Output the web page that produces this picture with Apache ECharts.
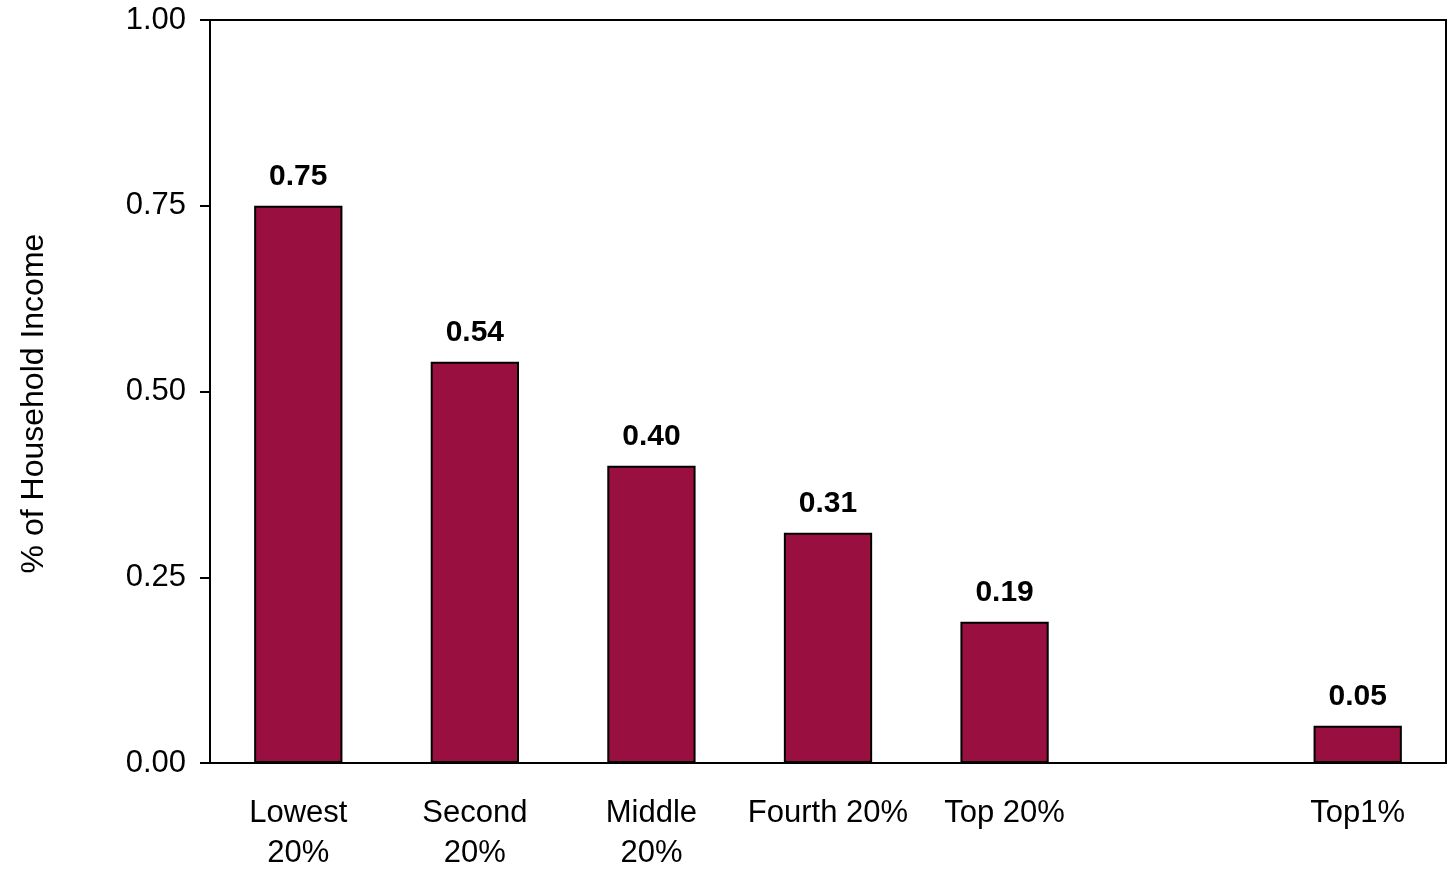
<!DOCTYPE html>
<html>
<head>
<meta charset="utf-8">
<script src="https://cdn.jsdelivr.net/npm/echarts@6/dist/echarts.min.js"></script>
<style>html,body{margin:0;padding:0;background:#fff}#c{width:1452px;height:873px}</style>
</head>
<body>
<div id="c"></div>
<script>
const categories = ['Lowest\n20%', 'Second\n20%', 'Middle\n20%', 'Fourth 20%', 'Top 20%', '', 'Top1%'];
const values = [0.75, 0.54, 0.40, 0.31, 0.19, null, 0.05];
const yTicks = [0, 0.25, 0.5, 0.75, 1.0];
const yAxisName = '% of Household Income';

const chart = echarts.init(document.getElementById('c'));
const font = 'Liberation Sans, Arial, sans-serif';
chart.setOption({
  animation: false,
  grid: { left: 210, right: 6, top: 20, bottom: 105, show: true, borderColor: '#000', borderWidth: 2 },
  xAxis: {
    type: 'category',
    data: categories,
    axisLine: { lineStyle: { color: '#000', width: 2 } },
    axisTick: { show: false },
    axisLabel: { color: '#000', fontSize: 31, fontFamily: font, lineHeight: 40, margin: 30, interval: 0 }
  },
  yAxis: {
    type: 'value',
    min: yTicks[0], max: yTicks[yTicks.length - 1], interval: 0.25,
    name: yAxisName,
    nameLocation: 'middle',
    nameGap: 160,
    nameTextStyle: { color: '#000', fontSize: 32, fontFamily: font, padding: [0, 24, 0, 0] },
    axisLine: { show: true, lineStyle: { color: '#000', width: 2 } },
    axisTick: { show: true, length: 10, lineStyle: { color: '#000', width: 2 } },
    splitLine: { show: false },
    axisLabel: { color: '#000', fontSize: 31, fontFamily: font, margin: 24, formatter: v => v.toFixed(2) }
  },
  series: [{
    type: 'bar',
    data: values,
    barWidth: '50%',
    itemStyle: { color: '#991040', borderColor: '#000', borderWidth: 2 },
    label: {
      show: true, position: 'top', distance: 14,
      color: '#000', fontSize: 30, fontWeight: 'bold', fontFamily: font,
      formatter: p => p.value == null ? '' : p.value.toFixed(2)
    }
  }]
});
</script>
</body>
</html>
